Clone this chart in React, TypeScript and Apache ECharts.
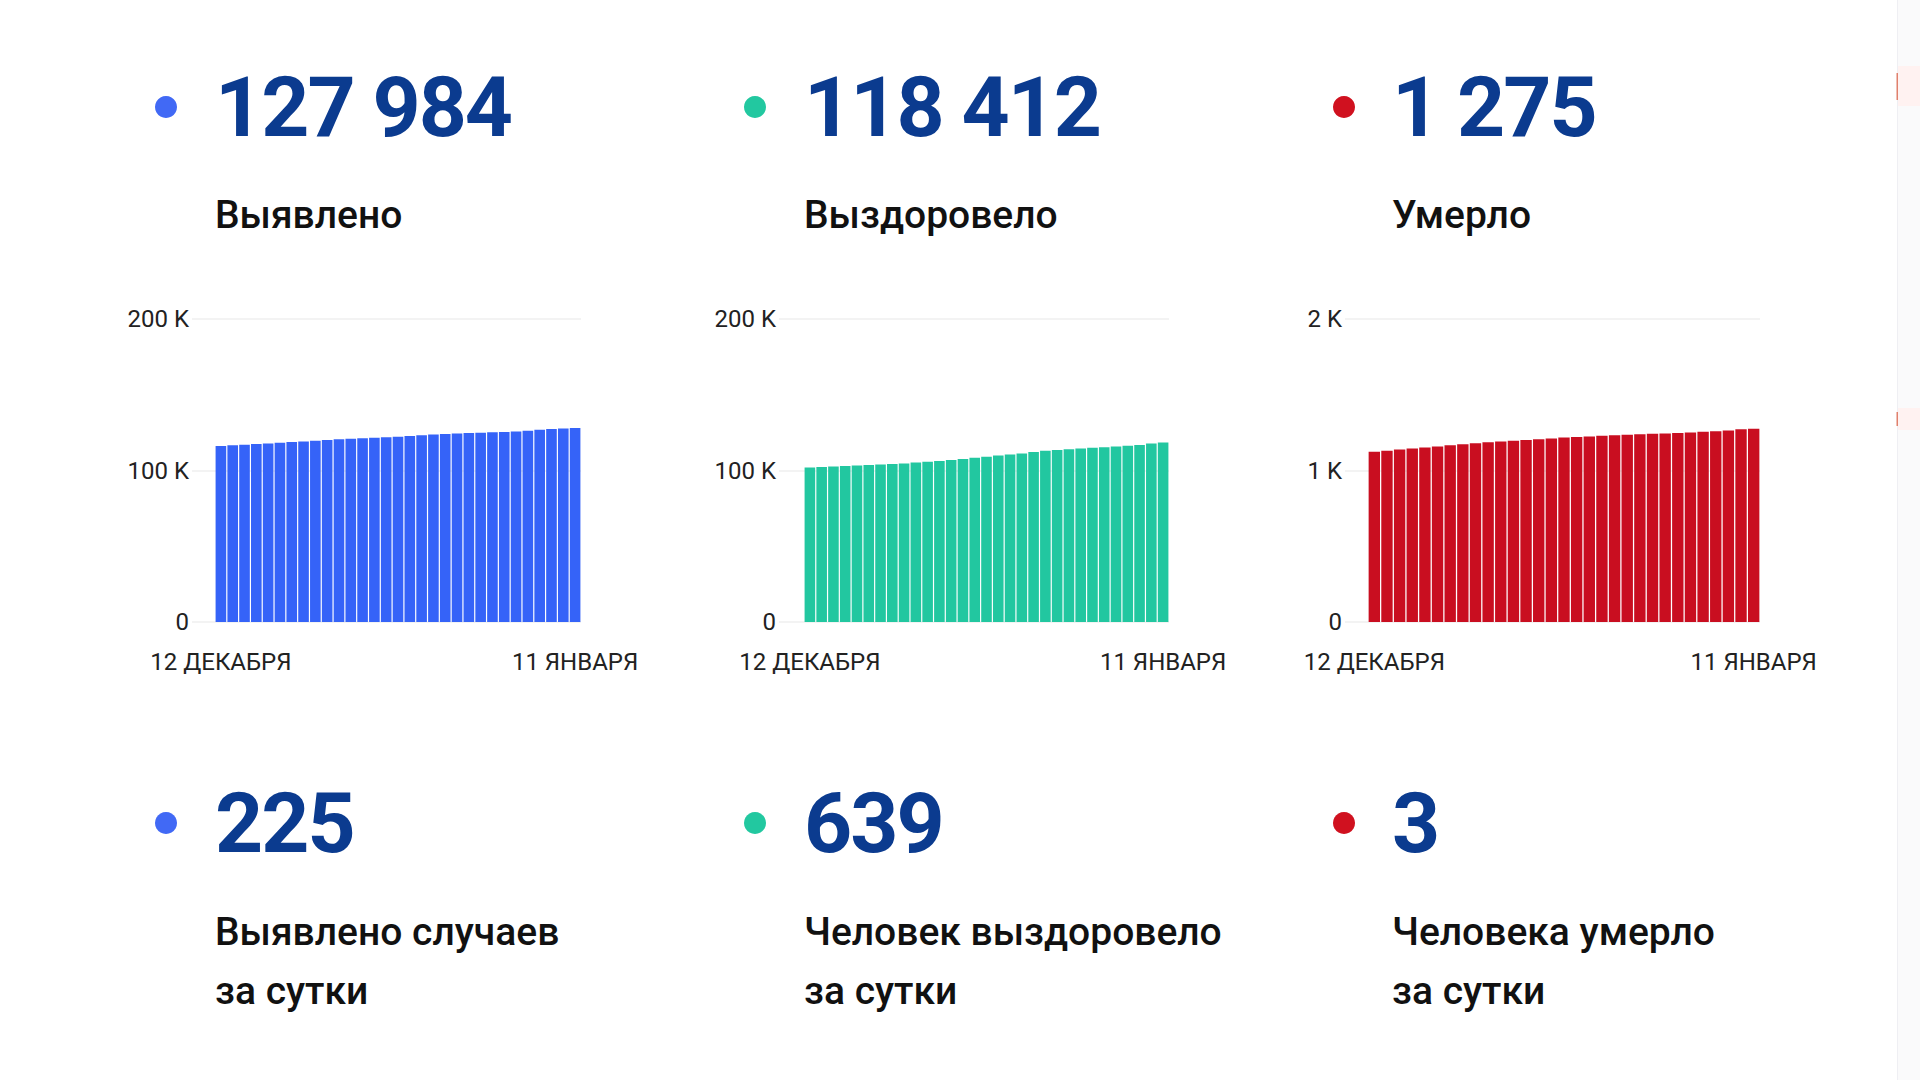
import React, { useEffect, useRef } from "react";
import * as echarts from "echarts";

const dates = [
  "12 ДЕКАБРЯ", "13 ДЕКАБРЯ", "14 ДЕКАБРЯ", "15 ДЕКАБРЯ", "16 ДЕКАБРЯ", "17 ДЕКАБРЯ",
  "18 ДЕКАБРЯ", "19 ДЕКАБРЯ", "20 ДЕКАБРЯ", "21 ДЕКАБРЯ", "22 ДЕКАБРЯ", "23 ДЕКАБРЯ",
  "24 ДЕКАБРЯ", "25 ДЕКАБРЯ", "26 ДЕКАБРЯ", "27 ДЕКАБРЯ", "28 ДЕКАБРЯ", "29 ДЕКАБРЯ",
  "30 ДЕКАБРЯ", "31 ДЕКАБРЯ", "1 ЯНВАРЯ", "2 ЯНВАРЯ", "3 ЯНВАРЯ", "4 ЯНВАРЯ",
  "5 ЯНВАРЯ", "6 ЯНВАРЯ", "7 ЯНВАРЯ", "8 ЯНВАРЯ", "9 ЯНВАРЯ", "10 ЯНВАРЯ", "11 ЯНВАРЯ",
];

const casesTotal = [
  116200, 116620, 117040, 117460, 117880, 118300, 118750, 119200, 119650, 120100,
  120550, 120950, 121300, 121650, 122000, 122350, 122800, 123250, 123700, 124100,
  124400, 124700, 124950, 125200, 125450, 125800, 126300, 126850, 127350, 127759, 127984,
];

const recoveredTotal = [
  101900, 102250, 102600, 102950, 103300, 103650, 104000, 104350, 104700, 105200,
  105750, 106300, 106900, 107600, 108350, 109100, 109850, 110600, 111300, 112200,
  113000, 113550, 114100, 114600, 115000, 115400, 115800, 116300, 116900, 117773, 118412,
];

const deathsTotal = [
  1124, 1131, 1138, 1145, 1152, 1159, 1166, 1173, 1180, 1186,
  1192, 1197, 1202, 1207, 1212, 1217, 1221, 1225, 1229, 1233,
  1236, 1239, 1242, 1245, 1248, 1251, 1255, 1259, 1264, 1272, 1275,
];

const caseTicks = ["0", "100 K", "200 K"];
const deathTicks = ["0", "1 K", "2 K"];

const totalValues = ["127 984", "118 412", "1 275"];
const totalLabels = ["Выявлено", "Выздоровело", "Умерло"];
const dailyValues = ["225", "639", "3"];
const dailyLabels = [
  ["Выявлено случаев", "за сутки"],
  ["Человек выздоровело", "за сутки"],
  ["Человека умерло", "за сутки"],
];

const FONT = "Roboto, 'Noto Sans', sans-serif";
const NAVY = "#0b3b8f";
const dotColors = ["#4169f5", "#22c8a0", "#d0111f"];

export default function App() {
  const ref = useRef<HTMLDivElement>(null);

  useEffect(() => {
    if (!ref.current) return;
    const chart = echarts.init(ref.current, undefined, { renderer: "svg" });

    const panels = [
      { gridLeft: 192, barLeft: 215, barRight: 581, color: "#3563f8", max: 200000, interval: 100000, ticks: caseTicks, data: casesTotal },
      { gridLeft: 779, barLeft: 804, barRight: 1169, color: "#22c7a0", max: 200000, interval: 100000, ticks: caseTicks, data: recoveredTotal },
      { gridLeft: 1345, barLeft: 1368, barRight: 1760, color: "#c90e20", max: 2000, interval: 1000, ticks: deathTicks, data: deathsTotal },
    ];

    const grid: any[] = [];
    const xAxis: any[] = [];
    const yAxis: any[] = [];
    const series: any[] = [];
    const top = 319;
    const height = 303;

    panels.forEach((p, i) => {
      grid.push({ left: p.gridLeft, top, width: p.barRight - p.gridLeft, height });
      grid.push({ left: p.barLeft, top, width: p.barRight - p.barLeft, height });
      xAxis.push({ gridIndex: 2 * i, type: "category", data: dates, show: false });
      xAxis.push({
        gridIndex: 2 * i + 1,
        type: "category",
        data: dates,
        axisLine: { show: false },
        axisTick: { show: false },
        axisLabel: {
          interval: (idx: number) => idx === 0 || idx === dates.length - 1,
          fontSize: 24,
          fontFamily: FONT,
          color: "#222222",
          margin: 28,
        },
      });
      yAxis.push({
        gridIndex: 2 * i,
        type: "value",
        min: 0,
        max: p.max,
        interval: p.interval,
        axisLine: { show: false },
        axisTick: { show: false },
        axisLabel: {
          formatter: (v: number) => p.ticks[Math.round(v / p.interval)],
          fontSize: 24,
          fontFamily: FONT,
          color: "#222222",
          margin: 3,
        },
        splitLine: { lineStyle: { color: "#efefef", width: 1.5 } },
      });
      yAxis.push({
        gridIndex: 2 * i + 1,
        type: "value",
        min: 0,
        max: p.max,
        show: false,
        splitLine: { show: false },
      });
      series.push({
        type: "bar",
        xAxisIndex: 2 * i + 1,
        yAxisIndex: 2 * i + 1,
        data: p.data,
        barCategoryGap: "10%",
        itemStyle: { color: p.color },
      });
    });

    const colX = [215, 804, 1392];
    const dotX = [166, 755, 1344];
    const graphic: any[] = [];

    // right edge decoration
    graphic.push({ type: "rect", shape: { x: 1898, y: 0, width: 22, height: 1080 }, style: { fill: "#fafafb" }, silent: true });
    graphic.push({ type: "rect", shape: { x: 1898, y: 66, width: 22, height: 40 }, style: { fill: "#fff2f1" }, silent: true });
    graphic.push({ type: "rect", shape: { x: 1898, y: 408, width: 22, height: 22 }, style: { fill: "#fff2f1" }, silent: true });
    graphic.push({ type: "line", shape: { x1: 1897.5, y1: 0, x2: 1897.5, y2: 1080 }, style: { stroke: "#efeff3", lineWidth: 1 }, silent: true });
    graphic.push({ type: "rect", shape: { x: 1896.5, y: 73, width: 1.5, height: 27 }, style: { fill: "#e0806c" }, silent: true });
    graphic.push({ type: "rect", shape: { x: 1896.5, y: 412, width: 1.5, height: 14 }, style: { fill: "#e0806c" }, silent: true });

    for (let i = 0; i < 3; i++) {
      graphic.push({ type: "circle", shape: { cx: dotX[i], cy: 107, r: 11 }, style: { fill: dotColors[i] } });
      graphic.push({ type: "circle", shape: { cx: dotX[i], cy: 823, r: 11 }, style: { fill: dotColors[i] } });
      graphic.push({
        type: "text", x: colX[i], y: 107,
        style: { text: totalValues[i], font: `bold 84px ${FONT}`, fill: NAVY, textAlign: "left", textVerticalAlign: "middle" },
      });
      graphic.push({
        type: "text", x: colX[i], y: 215,
        style: { text: totalLabels[i], font: `500 39px ${FONT}`, fill: "#111111", textAlign: "left", textVerticalAlign: "middle" },
      });
      graphic.push({
        type: "text", x: colX[i], y: 823,
        style: { text: dailyValues[i], font: `bold 84px ${FONT}`, fill: NAVY, textAlign: "left", textVerticalAlign: "middle" },
      });
      graphic.push({
        type: "text", x: colX[i], y: 932,
        style: { text: dailyLabels[i][0], font: `500 39px ${FONT}`, fill: "#111111", textAlign: "left", textVerticalAlign: "middle" },
      });
      graphic.push({
        type: "text", x: colX[i], y: 991,
        style: { text: dailyLabels[i][1], font: `500 39px ${FONT}`, fill: "#111111", textAlign: "left", textVerticalAlign: "middle" },
      });
    }

    chart.setOption({
      animation: false,
      backgroundColor: "#ffffff",
      grid,
      xAxis,
      yAxis,
      series,
      graphic,
    });

    return () => chart.dispose();
  }, []);

  return (
    <>
      <style>{`
        .covid-board text[style*="84px"] { letter-spacing: -2px; }
      `}</style>
      <div
        ref={ref}
        className="covid-board"
        style={{ position: "absolute", left: 0, top: 0, width: 1920, height: 1080, background: "#ffffff" }}
      />
    </>
  );
}
